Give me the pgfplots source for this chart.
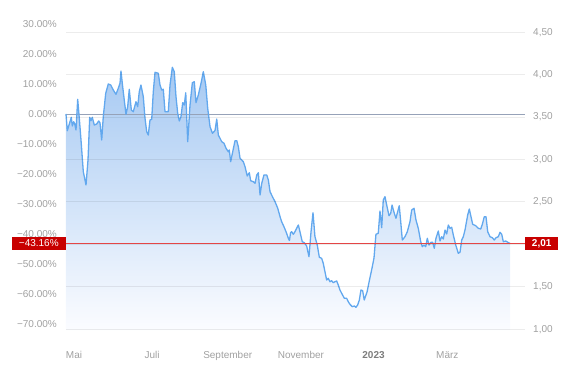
\documentclass[border=0pt]{standalone}
\usepackage{fontspec}
\setmainfont{Liberation Sans}
\usepackage{pgfplots}
\usepackage{pgfplotstable}
\pgfplotsset{compat=1.18}
\definecolor{lineblue}{RGB}{98,168,238}
\definecolor{filltop}{RGB}{166,201,242}
\definecolor{fillmid}{RGB}{222,234,250}
\definecolor{fillbot}{RGB}{251,252,255}
\definecolor{zeroline}{RGB}{150,162,184}
\definecolor{labelgray}{RGB}{160,160,160}
\definecolor{yeargray}{RGB}{125,125,125}
\definecolor{boxred}{RGB}{200,0,0}
\definecolor{dotred}{RGB}{228,70,70}

\pgfplotstableread{
day pct
-6.56 0
-5.49 -5.57
-3.28 -2.57
-2.21 -1.10
-1.39 -4.00
-0.25 -2.57
0.57 -3.33
1.64 -5.33
3.03 4.90
4.34 -1.43
5.74 -8.67
7.62 -19.20
9.84 -23.67
11.48 -15.33
12.87 -1.10
13.93 -2.23
15.00 -1.10
16.64 -3.67
18.60 -3.33
20.25 -2.33
21.30 -2.90
22.70 -8.67
24.00 -0.90
26.00 6.90
28.10 10.00
30.10 9.67
32.20 8.00
34.40 6.57
36.30 8.57
37.70 10.23
38.50 14.33
39.90 9.10
42.60 -0.10
44.00 2.43
45.30 8.23
47.00 1.33
48.60 0.77
50.80 4.10
52.20 2.43
53.50 7.43
54.90 9.67
56.80 5.77
58.20 -1.43
59.60 -5.90
60.90 -7.00
62.30 -2.00
63.70 -1.77
65.00 7.43
66.40 13.90
69.10 13.57
70.50 9.67
71.90 8.00
73.20 8.23
74.60 0.77
77.30 0.77
78.70 9.67
80.60 15.57
82.20 14.10
83.60 5.77
85.00 0.23
86.30 -2.33
87.70 -0.90
89.10 3.77
90.40 3.00
91.60 7.10
93.20 -9.23
95.10 3.00
97.00 10.43
98.60 10.77
100.00 3.77
101.90 6.33
104.10 10.23
106.00 14.10
108.00 9.67
109.60 1.90
111.50 -4.23
113.50 -6.43
115.60 -5.50
117.00 -1.67
118.30 -7.00
121.10 -9.23
123.00 -9.77
124.60 -11.43
126.50 -12.57
127.30 -12.00
128.40 -15.90
130.10 -12.57
132.00 -8.90
133.40 -8.90
134.70 -10.90
136.10 -14.77
138.80 -15.90
140.20 -17.57
142.00 -20.67
143.70 -19.57
144.80 -22.23
147.00 -22.57
148.40 -23.10
149.80 -20.33
151.10 -19.57
152.50 -27.00
153.90 -23.10
155.70 -20.33
158.00 -20.33
159.30 -22.00
160.70 -25.90
162.90 -27.77
164.80 -29.23
167.00 -31.43
168.90 -34.23
170.20 -35.90
172.10 -37.57
173.80 -39.23
175.70 -41.43
176.60 -42.17
177.50 -39.57
178.40 -39.23
179.80 -40.10
181.10 -39.23
182.50 -38.10
183.90 -37.00
185.20 -39.23
187.10 -42.57
188.80 -42.90
190.70 -44.00
192.60 -47.57
194.30 -39.23
195.90 -32.90
197.50 -40.90
199.40 -43.67
201.10 -47.77
203.00 -48.10
204.30 -49.77
205.70 -52.57
207.10 -55.33
208.40 -54.77
209.80 -55.90
211.20 -55.57
212.50 -56.23
213.90 -55.90
215.30 -55.67
216.60 -57.00
218.00 -58.67
219.40 -59.77
221.60 -61.43
223.50 -61.43
224.80 -62.57
226.20 -63.43
228.10 -64.23
229.80 -64.00
231.10 -64.43
232.50 -63.67
233.90 -62.00
235.20 -58.67
236.60 -58.90
237.90 -62.00
240.20 -59.33
242.20 -55.33
244.30 -51.33
245.90 -48.00
247.50 -40.10
249.40 -39.77
250.80 -32.33
252.20 -37.90
253.50 -28.67
254.90 -27.57
256.30 -30.33
258.20 -33.90
259.60 -33.10
260.70 -30.33
262.30 -32.77
263.90 -34.77
265.30 -32.57
266.60 -30.57
267.80 -35.90
269.10 -42.00
271.30 -40.90
273.20 -39.23
275.40 -35.90
276.80 -32.00
278.70 -31.43
280.30 -35.33
282.20 -38.10
284.20 -42.57
285.50 -44.23
286.90 -43.67
288.30 -44.23
289.60 -41.43
291.00 -43.67
292.60 -42.77
294.00 -42.77
295.30 -44.77
296.70 -41.43
298.60 -39.00
300.00 -42.33
301.40 -40.90
302.70 -41.67
304.10 -38.67
305.50 -40.00
306.80 -37.00
308.20 -38.10
309.60 -37.77
310.90 -40.33
312.90 -43.67
315.00 -46.43
316.40 -46.10
317.80 -42.00
319.10 -40.90
320.50 -38.67
322.70 -33.67
324.00 -31.67
325.40 -34.23
326.80 -36.77
329.30 -37.23
331.40 -38.10
333.40 -38.33
334.70 -36.77
336.30 -34.23
337.70 -34.23
339.10 -39.23
341.00 -40.90
342.90 -41.23
344.50 -42.00
345.90 -41.23
347.80 -40.90
349.20 -39.43
350.60 -40.10
351.90 -42.57
353.90 -42.33
355.60 -42.77
357.40 -43.16
}\perf
% baseline corners closing the area under the curve
\pgfplotstableread{
day pct
357.4 -72
-6.56 -72
}\basepts
\pgfplotstablevertcat{\perfarea}{\perf}
\pgfplotstablevertcat{\perfarea}{\basepts}

\begin{document}
\begin{tikzpicture}
% left axis (performance)
\begin{axis}[at={(0,0)}, anchor=south west, scale only axis,
  width=459pt, height=312pt,
  xmin=-6.56, xmax=369.67, ymin=-72, ymax=32,
  xtick={0,64,126,186,245.5,306},
  xticklabels={Mai, Juli, September, November, {\textcolor{yeargray}{\bfseries 2023}}, März},
  xticklabel style={anchor=base, yshift=-28pt, inner sep=0pt, text=labelgray},
  ytick={-70,-60,-50,-40,-30,-20,-10,0,10,20,30},
  yticklabels={−70.00\%,−60.00\%,−50.00\%,−40.00\%,−30.00\%,−20.00\%,−10.00\%,0.00\%,10.00\%,20.00\%,30.00\%},
  yticklabel style={anchor=east, inner sep=0pt, xshift=-9pt, text=labelgray},
  axis line style={draw=none}, major tick length=0pt, clip=false]
  \addplot[draw=none, top color=filltop, middle color=fillmid, bottom color=fillbot] table[x=day, y=pct] {\perfarea};
  \draw[zeroline, line width=0.8pt] (axis cs:-6.56,0) -- (axis cs:369.67,0);
  \addplot[lineblue, line width=1.3pt, no markers, line join=round] table[x=day, y=pct] {\perf};
\end{axis}
% right axis (price) with grid, drawn on top
\begin{axis}[at={(0,0)}, anchor=south west, scale only axis,
  width=459pt, height=312pt,
  xmin=-6.56, xmax=369.67, ymin=0.99008, ymax=4.66752,
  xtick=\empty,
  ytick={1,1.5,2,2.5,3,3.5,4,4.5},
  yticklabels={{1,00},{1,50},{},{2,50},{3,00},{3,50},{4,00},{4,50}},
  yticklabel pos=right,
  yticklabel style={anchor=west, inner sep=0pt, xshift=8pt, text=labelgray},
  ymajorgrids, major grid style={draw={rgb,255:red,0;green,0;blue,0}, draw opacity=0.075, line width=0.8pt},
  axis line style={draw=none}, major tick length=0pt, clip=false]
  \addplot[draw=none, forget plot] coordinates {(357.4,2.01)};
  \draw[draw=dotred, line width=0.8pt] (axis cs:-6.56,2.01) -- (axis cs:369.67,2.01);
  \node[fill=boxred, text=white, anchor=east, minimum width=54pt, minimum height=13.5pt, inner sep=0pt] at (axis cs:-6.56,2.01) {−43.16\%};
  \node[fill=boxred, text=white, anchor=west, minimum width=33pt, minimum height=13.5pt, inner sep=0pt] at (axis cs:369.67,2.01) {\bfseries 2,01};
\end{axis}
\pgfresetboundingbox
\useasboundingbox (-66pt,-46pt) rectangle (500pt,330pt);
\end{tikzpicture}
\end{document}
